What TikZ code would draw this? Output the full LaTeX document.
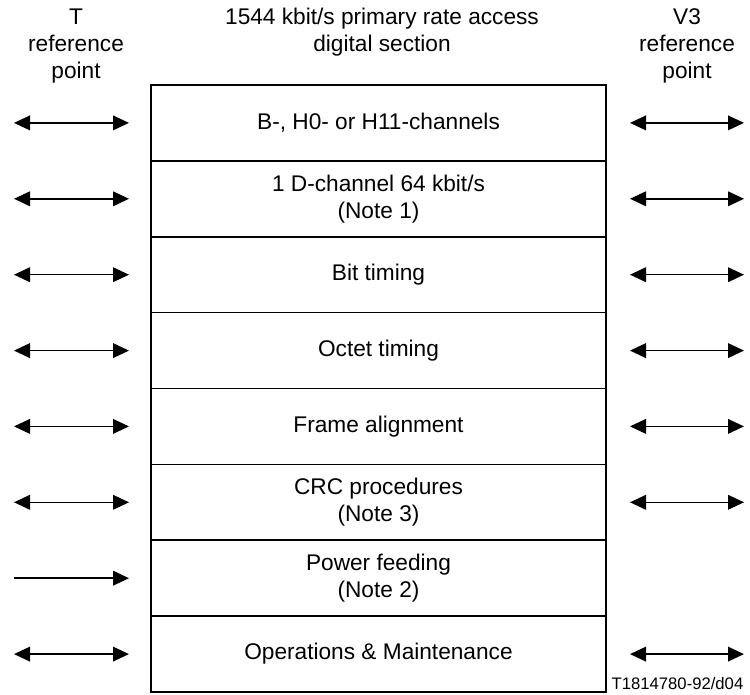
\documentclass[tikz,border=0pt]{standalone}
\usepackage{fontspec}
\setmainfont{Liberation Sans}
\usetikzlibrary{arrows.meta}

\tikzset{
  layer/.style={draw, line width=1.2pt, minimum width=341.25pt, minimum height=56.9pt, inner sep=0pt},
  link/.style={line width=1.1pt, {Triangle[length=12pt,width=11pt]}-{Triangle[length=12pt,width=11pt]}},
  feed/.style={line width=1.1pt, -{Triangle[length=12pt,width=11pt]}}
}

\begin{document}
\begin{tikzpicture}[x=0.75pt,y=0.75pt,yscale=-1,xscale=1,
  every node/.append style={font=\fontsize{17}{20.3}\selectfont, align=center}]
\useasboundingbox (0,0) rectangle (750,695);

% Text Node
\node (tref) at (76,46) {T\\reference\\point};
% Text Node
\node (sect) at (382,32) {1544 kbit/s primary rate access\\digital section};
% Text Node
\node (vref) at (687,46) {V3\\reference\\point};

% Layers
\node [layer] (chan) at (378.5,122.9) {B-, H0- or H11-channels};
\node [layer] (dch) at (378.5,198.8) {1 D-channel 64 kbit/s\\(Note 1)};
\node [layer] (bit) at (378.5,274.7) {Bit timing};
\node [layer] (oct) at (378.5,350.6) {Octet timing};
\node [layer] (frame) at (378.5,426.4) {Frame alignment};
\node [layer] (crc) at (378.5,502.3) {CRC procedures\\(Note 3)};
\node [layer] (power) at (378.5,578.2) {Power feeding\\(Note 2)};
\node [layer] (oam) at (378.5,654.1) {Operations \& Maintenance};

% Arrow ends, T side
\coordinate (ta1) at (14,122.9);  \coordinate (tb1) at (129,122.9);
\coordinate (ta2) at (14,198.8);  \coordinate (tb2) at (129,198.8);
\coordinate (ta3) at (14,274.7);  \coordinate (tb3) at (129,274.7);
\coordinate (ta4) at (14,350.6);  \coordinate (tb4) at (129,350.6);
\coordinate (ta5) at (14,426.4);  \coordinate (tb5) at (129,426.4);
\coordinate (ta6) at (14,502.3);  \coordinate (tb6) at (129,502.3);
\coordinate (ta7) at (14,578.2);  \coordinate (tb7) at (129,578.2);
\coordinate (ta8) at (14,654.1);  \coordinate (tb8) at (129,654.1);
% Arrow ends, V3 side
\coordinate (va1) at (630,122.9); \coordinate (vb1) at (744,122.9);
\coordinate (va2) at (630,198.8); \coordinate (vb2) at (744,198.8);
\coordinate (va3) at (630,274.7); \coordinate (vb3) at (744,274.7);
\coordinate (va4) at (630,350.6); \coordinate (vb4) at (744,350.6);
\coordinate (va5) at (630,426.4); \coordinate (vb5) at (744,426.4);
\coordinate (va6) at (630,502.3); \coordinate (vb6) at (744,502.3);
\coordinate (va8) at (630,654.1); \coordinate (vb8) at (744,654.1);

%Straight Lines
\draw [link] (ta1) -- (tb1);
\draw [link] (ta2) -- (tb2);
\draw [link] (ta3) -- (tb3);
\draw [link] (ta4) -- (tb4);
\draw [link] (ta5) -- (tb5);
\draw [link] (ta6) -- (tb6);
\draw [feed] (ta7) -- (tb7);
\draw [link] (ta8) -- (tb8);
%Straight Lines
\draw [link] (va1) -- (vb1);
\draw [link] (va2) -- (vb2);
\draw [link] (va3) -- (vb3);
\draw [link] (va4) -- (vb4);
\draw [link] (va5) -- (vb5);
\draw [link] (va6) -- (vb6);
\draw [link] (va8) -- (vb8);

% Text Node
\node [font=\fontsize{12.5}{14}\selectfont, anchor=east] (fig) at (748,684) {T1814780-92/d04};

\end{tikzpicture}
\end{document}
